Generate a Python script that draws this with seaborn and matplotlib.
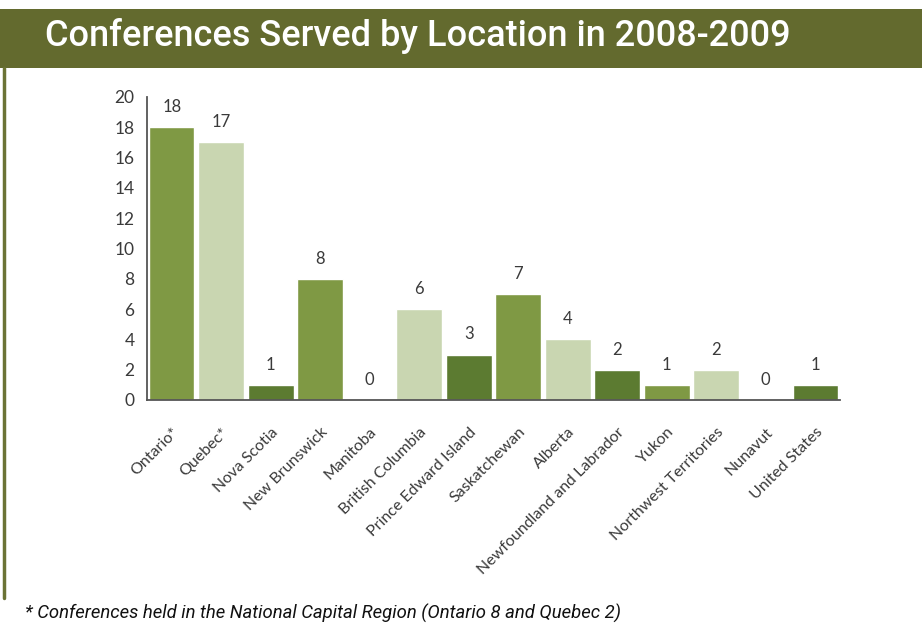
import matplotlib
matplotlib.use("Agg")
import matplotlib.pyplot as plt
from matplotlib.patches import Rectangle
from matplotlib.lines import Line2D
import seaborn as sns
import pandas as pd

locations = ["Ontario*", "Quebec*", "Nova Scotia", "New Brunswick", "Manitoba",
             "British Columbia", "Prince Edward Island", "Saskatchewan", "Alberta",
             "Newfoundland and Labrador", "Yukon", "Northwest Territories",
             "Nunavut", "United States"]
conferences = [18, 17, 1, 8, 0, 6, 3, 7, 4, 2, 1, 2, 0, 1]
shades = ["mid", "light", "dark", "mid", "light", "light", "dark", "mid", "light",
          "dark", "mid", "light", "dark", "dark"]

green = {"mid": "#7f9944", "light": "#c9d6b1", "dark": "#5c7b31"}
df = pd.DataFrame({"location": locations, "count": conferences})
palette = {loc: green[s] for loc, s in zip(locations, shades)}

sns.set_style("white")
plt.rcParams['font.family'] = ['Lato', 'DejaVu Sans']

fig = plt.figure(figsize=(9.22, 6.44), dpi=100)
ax = fig.add_axes([0.1594, 0.3789, 0.7517, 0.4705])

sns.barplot(data=df, x="location", y="count", hue="location", palette=palette,
            legend=False, width=0.92, saturation=1, ax=ax)

for i, v in enumerate(conferences):
    ax.text(i, v + 0.8, str(v), ha="center", va="bottom", fontsize=12,
            color="#3a3a3a")

ax.set_xlim(-0.5, 13.5)
ax.set_ylim(0, 20)
ax.set_yticks(range(0, 21, 2))
ax.set_xlabel("")
ax.set_ylabel("")
for s in ["top", "right"]:
    ax.spines[s].set_visible(False)
for s in ["left", "bottom"]:
    ax.spines[s].set_color("#555555")
    ax.spines[s].set_linewidth(1.3)
ax.tick_params(axis="y", length=0, pad=9, labelsize=12.5, labelcolor="#3a3a3a")
ax.tick_params(axis="x", length=0, pad=18, labelsize=11.5, labelcolor="#3a3a3a")
plt.setp(ax.get_xticklabels(), rotation=45, ha="right", rotation_mode="anchor")

# header band
fig.patches.append(Rectangle((0, 1 - 68 / 644), 1, 59 / 644, transform=fig.transFigure,
                             facecolor="#636a2e", edgecolor="none", zorder=0))
fig.text(45 / 922, 1 - 46 / 644, "Conferences Served by Location in 2008-2009",
         color="white", fontsize=26, fontweight="medium", va="baseline", ha="left",
         family=["Roboto", "DejaVu Sans"])
# left border
fig.lines.append(Line2D([4 / 922, 4 / 922], [1 - 68 / 644, 1 - 598 / 644],
                        transform=fig.transFigure, color="#6b7335", linewidth=2.5))

fig.text(25 / 922, 1 - 613 / 644,
         "* Conferences held in the National Capital Region (Ontario 8 and Quebec 2)",
         fontsize=13.3, style="italic", color="#111111",
         va="center", ha="left", family=["Roboto", "DejaVu Sans"])

fig.savefig("out.png", dpi=100)
